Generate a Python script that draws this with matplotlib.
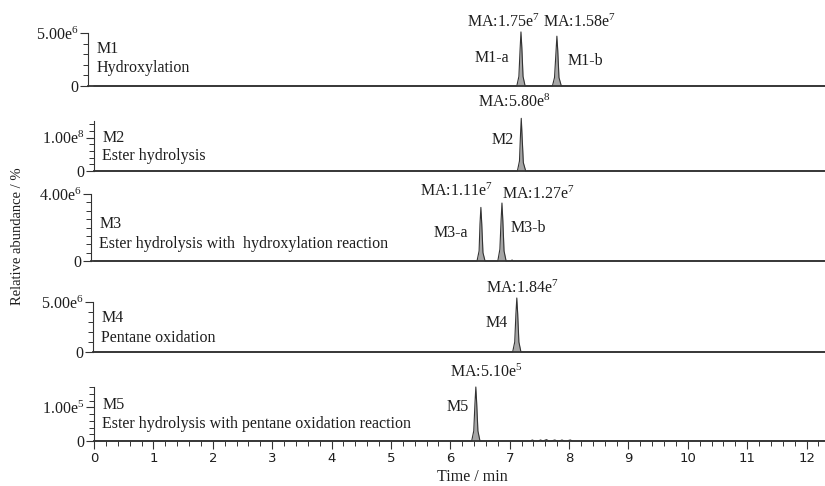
import matplotlib
matplotlib.use("Agg")
from matplotlib import pyplot as plt
from matplotlib.ticker import MultipleLocator, FixedLocator

plt.rcParams["font.family"] = "Liberation Serif"
plt.rcParams["mathtext.fontset"] = "custom"
plt.rcParams["mathtext.rm"] = "Liberation Serif"
plt.rcParams["mathtext.it"] = "Liberation Serif:italic"
plt.rcParams["mathtext.bf"] = "Liberation Serif:bold"

# extracted ion chromatograms: retention time (min) / intensity
m1_time = [0.0, 7.12, 7.155, 7.175, 7.19, 7.205, 7.225, 7.26,
           7.72, 7.755, 7.78, 7.795, 7.81, 7.83, 7.87, 12.3]
m1_int = [0, 0, 0.9e6, 3.4e6, 5.1e6, 3.6e6, 0.9e6, 0,
          0, 0.8e6, 3.2e6, 4.7e6, 3.3e6, 0.8e6, 0, 0]

m2_time = [0.0, 7.13, 7.165, 7.18, 7.195, 7.21, 7.23, 7.27, 12.3]
m2_int = [0, 0, 0.3e8, 1.0e8, 1.58e8, 1.0e8, 0.25e8, 0, 0]

m3_time = [0.0, 6.45, 6.485, 6.50, 6.515, 6.53, 6.55, 6.585,
           6.80, 6.835, 6.855, 6.87, 6.885, 6.905, 6.94,
           7.02, 7.04, 7.06, 12.3]
m3_int = [0, 0, 0.6e6, 2.2e6, 3.2e6, 2.2e6, 0.5e6, 0,
          0, 0.7e6, 2.4e6, 3.46e6, 2.4e6, 0.6e6, 0,
          0, 0.06e6, 0, 0]

m4_time = [0.0, 7.05, 7.085, 7.105, 7.12, 7.135, 7.155, 7.19, 12.3]
m4_int = [0, 0, 1.0e6, 3.8e6, 5.4e6, 3.8e6, 1.0e6, 0, 0]

m5_time = [0.0, 6.36, 6.395, 6.415, 6.43, 6.445, 6.465, 6.50,
           7.35, 7.38, 7.42, 7.48, 7.52, 7.56, 7.62, 7.66, 7.70,
           7.76, 7.80, 7.84, 7.88, 7.92, 7.96, 8.02, 8.06, 8.10, 12.3]
m5_int = [0, 0, 0.3e5, 1.1e5, 1.6e5, 1.1e5, 0.3e5, 0,
          0, 3e3, 0, 0, 3e3, 0, 4e3, 0, 0,
          3e3, 0, 0, 3e3, 0, 0, 3e3, 0, 0, 0]

names = ["M1", "M2", "M3", "M4", "M5"]
reactions = ["Hydroxylation",
             "Ester hydrolysis",
             "Ester hydrolysis with  hydroxylation reaction",
             "Pentane oxidation",
             "Ester hydrolysis with pentane oxidation reaction"]
y_tops = [5e6, 1.5e8, 4e6, 5e6, 1.6e5]
y_ticks = [5e6, 1e8, 4e6, 5e6, 1e5]
y_tick_labels = ["5.00e$^{6}$", "1.00e$^{8}$", "4.00e$^{6}$", "5.00e$^{6}$", "1.00e$^{5}$"]
y_minor = [1e6, 2e7, 5e5, 1e6, 2e4]

peak_labels = [
    [("MA:1.75e$^{7}$", 6.89, 5.57e6, "baseline"), ("MA:1.58e$^{7}$", 8.17, 5.57e6, "baseline"),
     ("M1-a", 6.70, 2.64e6, "center"), ("M1-b", 8.28, 2.36e6, "center")],
    [("MA:5.80e$^{8}$", 7.07, 1.91e8, "baseline"), ("M2", 6.89, 0.94e8, "center")],
    [("MA:1.11e$^{7}$", 6.11, 3.88e6, "baseline"), ("MA:1.27e$^{7}$", 7.49, 3.70e6, "baseline"),
     ("M3-a", 6.01, 1.67e6, "center"), ("M3-b", 7.32, 1.97e6, "center")],
    [("MA:1.84e$^{7}$", 7.21, 5.9e6, "baseline"), ("M4", 6.78, 2.9e6, "center")],
    [("MA:5.10e$^{5}$", 6.61, 1.91e5, "baseline"), ("M5", 6.13, 1.0e5, "center")],
]
series = [(m1_time, m1_int), (m2_time, m2_int), (m3_time, m3_int),
          (m4_time, m4_int), (m5_time, m5_int)]

# layout in pixels: (axis top, baseline), left edge in minutes
W, H = 825, 486
panel_px = [(33, 86), (121, 171), (194, 261), (302, 352), (387, 441)]
x_starts = [-0.1, 0.0, -0.05, -0.02, 0.0]
x0_px, px_per_min, x_end = 94, 59.4, 12.31
name_y = [(0.62, 0.26), (0.58, 0.22), (0.49, 0.19), (0.60, 0.20), (0.59, 0.24)]

ink = "#1e1e1e"
fig = plt.figure(figsize=(W / 100, H / 100), dpi=100)

for i in range(5):
    top, base = panel_px[i]
    left = x0_px + x_starts[i] * px_per_min
    ax = fig.add_axes([left / W, 1 - base / H, (W - left) / W, (base - top) / H])
    t, y = series[i]
    ax.fill_between(t, 0, y, color="#a6a6a6", lw=0, clip_on=False)
    ax.plot(t, y, color="#333333", lw=0.8, clip_on=False)
    ax.set_xlim(x_starts[i], x_end)
    ax.set_ylim(0, y_tops[i])

    for s in ["top", "right"]:
        ax.spines[s].set_visible(False)
    ax.spines["bottom"].set_color("#333333")
    ax.spines["bottom"].set_linewidth(1.3)
    ax.spines["left"].set_color("#333333")
    ax.spines["left"].set_linewidth(0.8)

    ax.yaxis.set_major_locator(FixedLocator([0, y_ticks[i]]))
    ax.set_yticklabels(["0", y_tick_labels[i]])
    ax.yaxis.set_minor_locator(MultipleLocator(y_minor[i]))
    ax.tick_params(axis="y", which="major", length=5.5, width=0.8, pad=1.5,
                   labelsize=11.5, colors="#333333", labelcolor=ink)
    ax.tick_params(axis="y", which="minor", length=3.5, width=0.7, colors="#333333")

    if i < 4:
        ax.tick_params(axis="x", which="both", bottom=False, labelbottom=False)
    else:
        ax.xaxis.set_major_locator(MultipleLocator(1))
        ax.xaxis.set_minor_locator(MultipleLocator(0.2))
        ax.tick_params(axis="x", which="major", length=5.5, width=0.8, pad=2.5,
                       labelsize=9.5, colors="#333333", labelcolor=ink)
        ax.tick_params(axis="x", which="minor", length=3.5, width=0.7, colors="#333333")
        for lab in ax.get_xticklabels():
            lab.set_family("DejaVu Sans")
        ax.set_xlabel("Time / min", fontsize=11.5, color=ink)
        ax.xaxis.set_label_coords(0.517, -0.52)
        ax.set_xlim(x_starts[i], x_end)

    ax.annotate(names[i], xy=(0, name_y[i][0]), xycoords="axes fraction",
                xytext=(6, 0), textcoords="offset points", fontsize=11.5,
                color=ink, va="baseline")
    ax.annotate(reactions[i], xy=(0, name_y[i][1]), xycoords="axes fraction",
                xytext=(6, 0), textcoords="offset points", fontsize=11.5,
                color=ink, va="baseline")

    for text, tx, ty, va in peak_labels[i]:
        ax.text(tx, ty, text, fontsize=11.5, color=ink, ha="center", va=va,
                clip_on=False)

fig.text(18 / W, 1 - 236 / H, "Relative abundance / %", rotation=90,
         ha="center", va="center", fontsize=10.5, color=ink)

fig.savefig("out.png", dpi=100)
